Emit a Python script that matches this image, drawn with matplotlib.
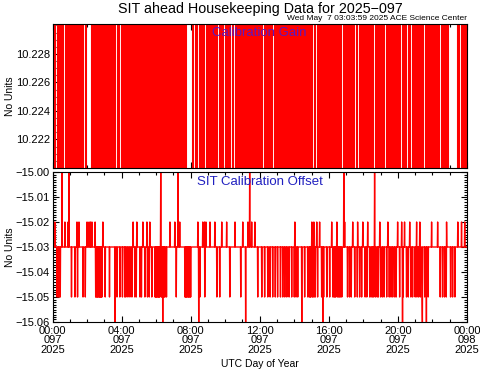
import numpy as np
import matplotlib
matplotlib.use("Agg")
import matplotlib.pyplot as plt
from matplotlib.ticker import MultipleLocator, FixedLocator, FuncFormatter

plt.rcParams['font.family'] = ['Liberation Sans', 'DejaVu Sans']

# ---------------- data (hours of day 2025-097) ----------------
n_hours = 24
gain_sample_minutes = 5
offset_sample_minutes = 1

# Calibration Gain: toggles between two levels every sample, except where it holds (white gaps)
gain_levels = [10.2190, 10.2312]
gain_hold_start = [0.26, 0.72, 1.94, 2.11, 3.73, 3.96, 7.84, 8.24, 8.53, 8.94, 9.69, 9.98,
                   10.38, 10.56, 12.29, 12.87, 15.18, 15.36, 16.80, 17.61, 17.79, 18.66,
                   19.35, 20.22, 20.57, 20.85, 21.55, 22.53, 22.99, 23.69]
gain_hold_end = [0.26, 0.72, 1.94, 2.23, 3.73, 3.96, 8.07, 8.24, 8.53, 8.94, 9.69, 9.98,
                 10.38, 10.56, 12.29, 12.87, 15.18, 15.36, 16.80, 17.61, 17.79, 18.66,
                 19.35, 20.22, 20.57, 20.85, 21.55, 22.53, 23.40, 23.69]

# Calibration Offset: baseline with excursions
offset_base = -15.03
offset_up_val = -15.02
offset_up_hours = [0.03, 0.14, 0.55, 0.72, 0.90, 1.42, 1.53, 2.00, 2.11, 2.20, 2.28, 2.46,
                   2.92, 4.66, 4.89, 5.23, 5.47, 5.64, 6.80, 7.08, 7.26, 7.37, 8.42, 8.70,
                   8.80, 8.88, 9.11, 9.40, 9.80, 10.09, 10.56, 11.02, 11.31, 11.54, 11.71,
                   14.03, 15.01, 15.13, 15.30, 15.47, 16.17, 16.46, 16.75, 16.92, 17.38,
                   17.67, 17.96, 18.25, 18.95, 19.41, 19.99, 20.22, 20.39, 20.68, 21.09,
                   21.26, 21.95, 22.30, 22.82, 23.46, 23.69, 23.86]
offset_down_val = -15.05
offset_down_hours = [0.26, 0.33, 0.38, 0.45, 1.10, 1.30, 1.45, 1.76, 1.90, 2.50, 2.54, 2.58,
                     2.62, 2.66, 2.71, 2.75, 2.79, 2.83, 2.87, 3.05, 3.30, 3.73, 3.90, 4.05,
                     4.19, 4.25, 4.37, 4.48, 4.60, 4.77, 4.85, 5.06, 5.15, 5.35, 5.50, 5.60,
                     5.75, 5.93, 5.97, 6.01, 6.05, 6.10, 6.14, 6.18, 6.22, 6.27, 6.31, 6.35,
                     6.43, 6.47, 6.52, 6.60, 7.17, 7.66, 7.70, 7.75, 7.79, 7.83, 7.88, 7.92,
                     7.96, 8.00, 8.53, 8.82, 9.52, 9.69, 10.27, 10.90, 11.42, 11.88, 12.12,
                     12.29, 12.46, 12.60, 12.75, 12.90, 13.04, 13.20, 13.33, 13.45, 13.56,
                     13.70, 13.85, 14.00, 14.10, 14.20, 14.60, 14.78, 14.87, 14.91, 14.95,
                     15.04, 15.08, 15.15, 15.21, 15.35, 15.59, 15.70, 15.88, 16.05, 16.23,
                     16.30, 16.35, 16.40, 16.50, 16.57, 16.62, 16.69, 16.75, 17.09, 17.20,
                     17.30, 17.50, 17.65, 17.79, 17.90, 18.10, 18.20, 18.36, 18.45, 18.53,
                     18.60, 18.70, 18.80, 18.87, 19.00, 19.10, 19.20, 19.35, 19.50, 19.60,
                     19.70, 19.81, 19.90, 20.10, 20.30, 20.50, 20.60, 20.75, 20.85, 21.00,
                     21.10, 21.20, 21.30, 21.40, 21.55, 21.75, 22.45, 22.59, 22.70, 22.80,
                     23.05, 23.17, 23.30]
offset_top_val = -15.00
offset_top_hours = [0.55, 0.95, 6.27, 7.26, 11.42, 16.86, 18.65]
offset_bottom_val = -15.06
offset_bottom_hours = [3.61, 6.39, 8.47, 11.19, 14.43, 15.65, 20.27, 21.42, 21.65]

x_tick_hours = [0, 4, 8, 12, 16, 20, 24]
x_tick_labels = ["00:00\n097\n2025", "04:00\n097\n2025", "08:00\n097\n2025",
                 "12:00\n097\n2025", "16:00\n097\n2025", "20:00\n097\n2025",
                 "00:00\n098\n2025"]

# ---------------- build series ----------------
gspd = 60 // gain_sample_minutes
tg = np.arange(n_hours * gspd + 1) / gspd
held = np.zeros(len(tg), dtype=bool)
for s, e in zip(gain_hold_start, gain_hold_end):
    held[int(round(s * gspd)):int(round(e * gspd)) + 1] = True
state = 0
gain = []
for i in range(len(tg)):
    if not held[i]:
        state = 1 - state
    gain.append(gain_levels[state])
gain = np.array(gain)

ospd = 60 // offset_sample_minutes
to = np.arange(n_hours * ospd + 1) / ospd
offset = np.full(len(to), offset_base)
for hours, val in [(offset_up_hours, offset_up_val), (offset_down_hours, offset_down_val),
                   (offset_top_hours, offset_top_val), (offset_bottom_hours, offset_bottom_val)]:
    for h in hours:
        offset[int(round(h * ospd))] = val

# ---------------- figure ----------------
fig = plt.figure(figsize=(4.81, 3.70), dpi=100)
L, W = 52.5 / 481, (467 - 52.5) / 481
ax1 = fig.add_axes([L, 1 - 168 / 370, W, (168 - 24) / 370])
ax2 = fig.add_axes([L, 1 - 322 / 370, W, (322 - 172) / 370])

red = '#ff0000'
ax1.plot(tg, gain, color=red, lw=1.5, drawstyle='steps-mid')
ax2.plot(to, offset, color=red, lw=1.0)

ax1.set_ylim(10.2200, 10.2301)
ax2.set_ylim(-15.06, -15.00)
for ax in (ax1, ax2):
    ax.set_xlim(0, 24)
    ax.xaxis.set_major_locator(FixedLocator(x_tick_hours))
    ax.xaxis.set_minor_locator(MultipleLocator(1))
    ax.tick_params(which='both', direction='in', top=True, right=True, labelsize=8,
                   width=0.8, colors='black', pad=2)
    ax.tick_params(which='major', length=4)
    ax.tick_params(which='minor', length=2)
    for sp in ax.spines.values():
        sp.set_linewidth(0.8)
    ax.set_ylabel("No Units", fontsize=7.5)
    ax.yaxis.set_label_coords(-0.09, 0.5)

ax1.set_yticks([10.222, 10.224, 10.226, 10.228])
ax1.yaxis.set_minor_locator(MultipleLocator(0.0005))
ax1.set_yticklabels(["10.222", "10.224", "10.226", "10.228"])
ax1.set_xticklabels([])

ax2.yaxis.set_major_locator(MultipleLocator(0.01))
ax2.yaxis.set_minor_locator(MultipleLocator(0.001))
ax2.yaxis.set_major_formatter(FuncFormatter(lambda v, p: f"{v:.2f}".replace('-', '\u2212')))
ax2.set_xticks(x_tick_hours)
ax2.set_xticklabels(x_tick_labels, fontsize=8, linespacing=0.9)
ax2.tick_params(axis='x', which='major', pad=3)
ax2.set_xlabel("UTC Day of Year", fontsize=7.5, labelpad=3)

ax1.text(0.5, 0.94, "Calibration Gain", transform=ax1.transAxes, ha='center', va='center',
         color='#5a18c0', fontsize=9.5)
ax2.text(0.5, 0.93, "SIT Calibration Offset", transform=ax2.transAxes, ha='center',
         va='center', color='#2020c0', fontsize=9.5)

fig.text(260 / 481, 1 - 9 / 370, "SIT ahead Housekeeping Data for 2025\u2212097", ha='center',
         va='center', fontsize=10.3)
fig.text(467 / 481, 1 - 18.5 / 370, "Wed May  7 03:03:59 2025 ACE Science Center",
         ha='right', va='center', fontsize=6)

fig.savefig("out.png", dpi=100)
